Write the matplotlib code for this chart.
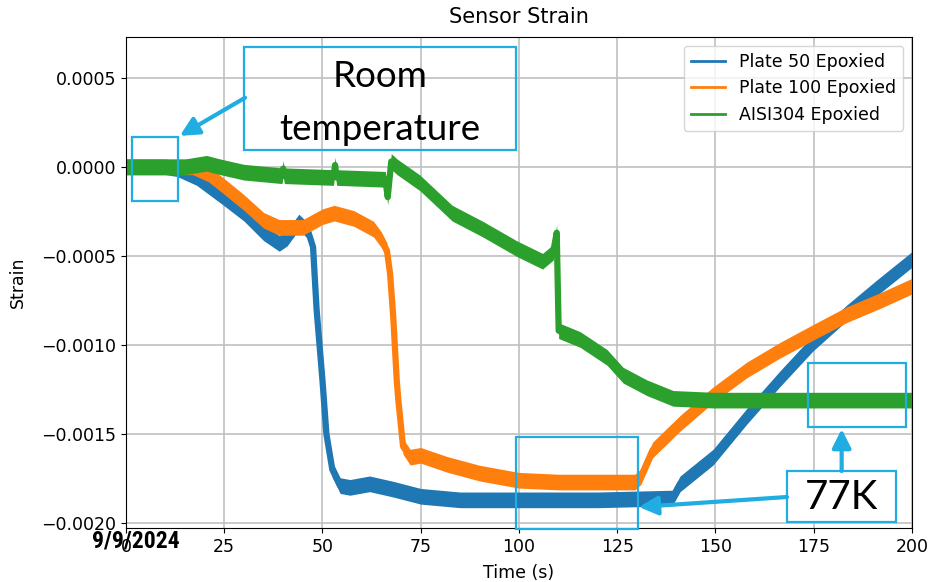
import matplotlib
matplotlib.use("Agg")
import matplotlib.pyplot as plt
from matplotlib import font_manager
from matplotlib.patches import Rectangle
from matplotlib.ticker import MultipleLocator
import numpy as np

# values (strain in units of 1e-3)
t_plate50 = [0, 5, 10, 13, 18, 25, 30, 35, 39, 41, 44, 46.3, 47.6, 48.5, 50, 51,
             52.5, 54.5, 57, 62, 68, 75, 85, 100, 120, 139, 141, 149.4, 158,
             166.4, 174.8, 183.4, 191, 200]
s_plate50 = [0, 0, 0, -0.01, -0.06, -0.175, -0.26, -0.37, -0.43, -0.40, -0.31,
             -0.36, -0.45, -0.80, -1.20, -1.50, -1.70, -1.79, -1.80, -1.78, -1.81,
             -1.85, -1.87, -1.87, -1.87, -1.86, -1.78, -1.63, -1.40, -1.19, -0.99,
             -0.82, -0.68, -0.52]

t_plate100 = [0, 10, 17, 21, 25, 30, 35, 39, 45, 50, 53, 58, 63, 65, 66.4, 67.2,
              68, 68.9, 69.3, 70.5, 72.3, 75, 81.6, 90, 100, 110, 129.5, 131, 134,
              141, 149.4, 158, 166.4, 174.8, 183.4, 192, 200]
s_plate100 = [0, 0, 0, -0.04, -0.11, -0.20, -0.30, -0.34, -0.34, -0.28, -0.26,
              -0.29, -0.35, -0.41, -0.47, -0.60, -0.84, -1.20, -1.31, -1.57, -1.63,
              -1.62, -1.67, -1.72, -1.76, -1.77, -1.77, -1.74, -1.59, -1.44, -1.28,
              -1.14, -1.03, -0.93, -0.83, -0.75, -0.67]

t_aisi = [0, 15, 20.5, 24, 30, 39.7, 40, 40.3, 52.8, 53.2, 53.6, 66, 66.6, 67.5, 69,
          74.8, 83, 90.8, 99.5, 106, 108.7, 109.6, 110.1, 115.6, 122.4, 126.5,
          132.5, 139.2, 149.4, 175, 200]
s_aisi = [0.0, 0.0, 0.02, 0.0, -0.03, -0.05, -0.01, -0.05, -0.06, 0.01, -0.06, -0.07,
          -0.17, 0.03, 0.0, -0.09, -0.26, -0.35, -0.46, -0.53, -0.48, -0.37, -0.92,
          -0.97, -1.07, -1.17, -1.24, -1.30, -1.31, -1.31, -1.31]

series = [
    ("Plate 50 Epoxied", t_plate50, s_plate50, "#1f77b4"),
    ("Plate 100 Epoxied", t_plate100, s_plate100, "#ff7f0e"),
    ("AISI304 Epoxied", t_aisi, s_aisi, "#2ca02c"),
]

band = 0.000044      # half height of the noisy trace
box_blue = "#1FADE2"


def narrow_font():
    names = {f.name for f in font_manager.fontManager.ttflist}
    for name in ["Roboto Condensed", "Liberation Sans Narrow", "Open Sans Condensed",
                 "DejaVu Sans Condensed", "Noto Sans Condensed"]:
        if name in names:
            return name
    return "DejaVu Sans"


plt.rcParams["font.size"] = 12.5

fig = plt.figure(figsize=(9.29, 5.82), dpi=100)
ax = fig.add_subplot(111)
fig.subplots_adjust(left=0.1356, right=0.9817, top=0.9364, bottom=0.0928)

for label, t, s, color in series:
    t = np.array(t)
    s = np.array(s) * 1e-3
    ax.fill_between(t, s - band, s + band, color=color, lw=0, zorder=2)
    ax.plot(t, s, color=color, lw=4.5, label=label, zorder=2)

ax.set_xlim(0, 200)
ax.set_ylim(-0.002028, 0.000729)
ax.xaxis.set_major_locator(MultipleLocator(25))
ax.yaxis.set_major_locator(MultipleLocator(0.0005))
ax.grid(True, color="#c0c0c0", lw=1.2)
ax.set_axisbelow(True)
ax.set_title("Sensor Strain", pad=10)
ax.set_xlabel("Time (s)", labelpad=6)
ax.set_ylabel("Strain", labelpad=10)
leg = ax.legend(loc="upper right")
for line in leg.get_lines():
    line.set_linewidth(2)

# annotation boxes
def box(x0, x1, y0, y1):
    ax.add_patch(Rectangle((x0, y0), x1 - x0, y1 - y0, fill=False,
                           ec=box_blue, lw=1.6, zorder=5, clip_on=False))

box(1.5, 13.2, -0.000191, 0.000169)
box(30.0, 99.2, 0.0000955, 0.000674)
box(99.2, 130.3, -0.002034, -0.001517)
box(173.5, 198.5, -0.001461, -0.001101)
ax.add_patch(Rectangle((168.2, -0.001994), 27.7, 0.000286, fc="white",
                       ec=box_blue, lw=1.6, zorder=5))

ax.text(64.6, 0.00036, "Room\ntemperature", ha="center", va="center",
        fontsize=26.5, family=["Lato", "DejaVu Sans"], linespacing=1.75, zorder=6)
ax.text(182.1, -0.001854, "77K", ha="center", va="center", fontsize=29,
        family=["Lato", "DejaVu Sans"], zorder=6)

arrow = dict(arrowstyle="-|>,head_length=0.9,head_width=0.45", color=box_blue,
             lw=3, shrinkA=0, shrinkB=0)
ax.annotate("", xy=(13.7, 0.000174), xytext=(30.3, 0.000388),
            arrowprops=arrow, zorder=6)
ax.annotate("", xy=(130.5, -0.00191), xytext=(168.2, -0.001854),
            arrowprops=arrow, zorder=6)
ax.annotate("", xy=(182.1, -0.001472), xytext=(182.1, -0.001708),
            arrowprops=arrow, zorder=6)

date_font = narrow_font()
fig.text(136 / 929, 1 - 541 / 582, "9/9/2024", ha="center", va="center",
         fontsize=17 if date_font != "DejaVu Sans" else 12.5, fontweight="bold",
         family=[date_font, "DejaVu Sans"], fontstretch="condensed")

fig.savefig("out.png", dpi=100)
